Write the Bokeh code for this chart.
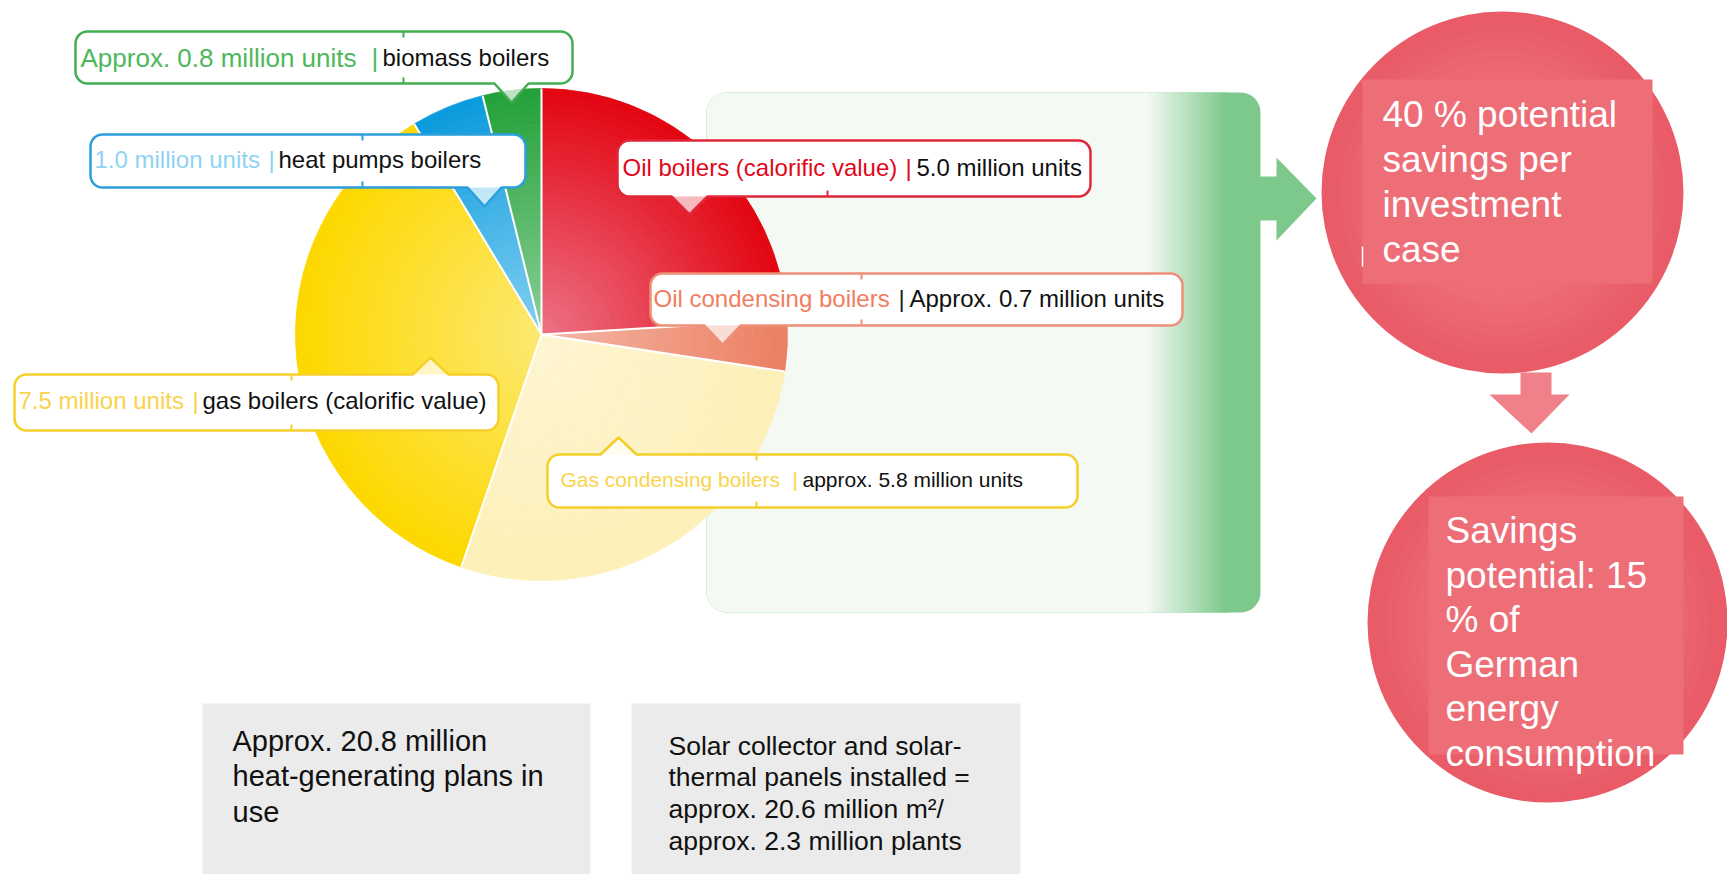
import numpy as np
from bokeh.plotting import figure
from bokeh.models import Range1d
from bokeh.core.properties import value
from bokeh.embed import file_html
from bokeh.resources import INLINE

# ---------------- data ----------------
categories = ["Oil boilers (calorific value)", "Oil condensing boilers", "Gas condensing boilers",
              "Gas boilers (calorific value)", "Heat pumps boilers", "Biomass boilers"]
units_million = [5.0, 0.7, 5.8, 7.5, 1.0, 0.8]
label_first = ["Oil boilers (calorific value)", "Oil condensing boilers", "Gas condensing boilers",
               "7.5 million units", "1.0 million units", "Approx. 0.8 million units"]
label_second = ["5.0 million units", "Approx. 0.7 million units", "approx. 5.8 million units",
                "gas boilers (calorific value)", "heat pumps boilers", "biomass boilers"]
savings_top = ["40 % potential", "savings per", "investment", "case"]
savings_bottom = ["Savings", "potential: 15", "% of", "German", "energy", "consumption"]
summary_left = ["Approx. 20.8 million", "heat-generating plans in", "use"]
summary_right = ["Solar collector and solar-", "thermal panels installed =",
                 "approx. 20.6 million m\u00b2/", "approx. 2.3 million plants"]

# ---------------- styles / layout ----------------
FONT = value("Liberation Sans")
slice_edge = ["#e30613", "#ec8062", "#fdf0b8", "#fdd800", "#0c9bdd", "#24a13a"]
slice_center = ["#ec7084", "#f4b6a6", "#fef5d2", "#fde870", "#82cff1", "#8acf96"]
first_color = ["#e3061a", "#f07d5e", "#f8d44c", "#f9d24a", "#8fd3f4", "#4db85b"]
sep_color = ["#e3061a", "#222222", "#f8d44c", "#f9d24a", "#8fd3f4", "#4db85b"]
border_color = ["#e1263a", "#ee8f77", "#f4cf2a", "#f6cf2a", "#2b9fdc", "#44ad52"]
# box (x0, y0, x1, y1), pointer (side, x, halfwidth, height), text x positions, text y, sizes
boxes = [(617, 140, 1090, 196), (650, 273, 1182, 325), (547, 454, 1077, 507),
         (14, 374, 498, 430), (90, 134, 525, 187), (75, 31, 572, 83)]
pointers = [("bottom", 689, 18, 18), ("bottom", 722, 18, 19), ("top", 618, 18, 17),
            ("top", 430, 18, 17), ("bottom", 484, 17, 19), ("bottom", 511, 17, 19)]
stubs = [(827, False, True), (861, True, True), (756, True, True),
         (291, True, True), (362, True, True), (403, True, True)]
text_x = [(622, 905, 916), (653, 898, 909), (560, 792, 802),
          (18, 192, 202), (94, 268, 278), (80, 371, 382)]
text_y = [167, 298, 479, 400, 159, 57]
size_first = ["24px", "24px", "21px", "24px", "24px", "26px"]
size_second = ["24px", "24px", "21px", "24px", "24px", "24px"]

W, H = 1727, 874
p = figure(width=W, height=H, x_range=Range1d(0, W), y_range=Range1d(-H, 0),
           output_backend="svg", toolbar_location=None, x_axis_type=None, y_axis_type=None,
           min_border=0)
p.outline_line_color = None
p.background_fill_color = "white"
p.border_fill_color = "white"


def hx(c):
    c = c.lstrip("#")
    return np.array([int(c[i:i + 2], 16) for i in (0, 2, 4)], dtype=float)


def mix(c1, c2, t):
    a, b = hx(c1), hx(c2)
    m = a + (b - a) * t
    return "#%02x%02x%02x" % tuple(int(round(v)) for v in m)


def rounded_path(x0, y0, x1, y1, r, ptr=None, radii=None):
    tl, tr, br, bl = radii if radii else (r, r, r, r)
    pts = []

    def arc(cx, cy, a0, a1, rr):
        if rr <= 0:
            return [(cx, cy)]
        ts = np.radians(np.linspace(a0, a1, 9))
        return [(cx + rr * np.cos(t), cy + rr * np.sin(t)) for t in ts]

    pts += arc(x0 + tl, y0 + tl, 180, 270, tl)
    if ptr and ptr[0] == "top":
        _, px, pw, ph = ptr
        pts += [(px - pw, y0), (px, y0 - ph), (px + pw, y0)]
    pts += arc(x1 - tr, y0 + tr, 270, 360, tr)
    pts += arc(x1 - br, y1 - br, 0, 90, br)
    if ptr and ptr[0] == "bottom":
        _, px, pw, ph = ptr
        pts += [(px + pw, y1), (px, y1 + ph), (px - pw, y1)]
    pts += arc(x0 + bl, y1 - bl, 90, 180, bl)
    return [q[0] for q in pts], [-q[1] for q in pts]


# ---------------- green panel ----------------
PX0, PY0, PX1, PY1 = 706, 92, 1260, 612
G_LIGHT, G_DARK = "#f4f9f4", "#7cc98b"
xs, ys = rounded_path(PX0, PY0, PX1, PY1, 20)
p.patch(xs, ys, fill_color=G_DARK, line_color=None)
xs, ys = rounded_path(PX0, PY0, 1146, PY1, 20, radii=(20, 0, 0, 20))
p.patch(xs, ys, fill_color=G_LIGHT, line_color=None)
gx = np.arange(1145, 1226, 2)
gcols = [mix(G_LIGHT, G_DARK, (v - 1145) / 80.0) for v in gx]
p.quad(left=gx, right=gx + 2.5, top=-PY0, bottom=-PY1, fill_color=gcols, line_color=None)
# arrow to top circle
p.patch([1258, 1276, 1276, 1316, 1276, 1276, 1258], [-176, -176, -157, -198, -240, -220, -220],
        fill_color=G_DARK, line_color=None)

# ---------------- pie ----------------
CX, CY, R = 541, 334, 246
vals = np.array(units_million)
cum = np.concatenate([[0.0], np.cumsum(vals / vals.sum())])
a_start = np.pi / 2 - 2 * np.pi * cum[:-1]
a_end = np.pi / 2 - 2 * np.pi * cum[1:]
NB = 28
wx, wy, rin, rout, sa, ea, cols = [], [], [], [], [], [], []
for i in range(len(vals)):
    for k in range(NB):
        t = k / (NB - 1)
        wx.append(CX); wy.append(-CY)
        rin.append(R * k / NB); rout.append(R * (k + 1) / NB)
        sa.append(a_end[i]); ea.append(a_start[i])
        cols.append(mix(slice_center[i], slice_edge[i], t))
p.annular_wedge(x=wx, y=wy, inner_radius=rin, outer_radius=rout, start_angle=sa, end_angle=ea,
                fill_color=cols, line_color=cols, line_width=0.8)
bang = np.pi / 2 - 2 * np.pi * cum[:-1]
p.segment(x0=[CX] * len(bang), y0=[-CY] * len(bang), x1=CX + R * np.cos(bang),
          y1=-CY + R * np.sin(bang), line_color="white", line_width=2)

# ---------------- callouts ----------------
for i in range(len(categories)):
    x0, y0, x1, y1 = boxes[i]
    bx, by = rounded_path(x0, y0, x1, y1, 12)
    p.patch(bx, by, fill_color="white", line_color=None)
    cx_, cy_ = rounded_path(x0, y0, x1, y1, 12, ptr=pointers[i])
    p.patch(cx_, cy_, fill_color="white", fill_alpha=0.7, line_color=border_color[i], line_width=2.5)
    sx, top_stub, bot_stub = stubs[i]
    if top_stub:
        p.segment(x0=[sx], y0=[-y0], x1=[sx], y1=[-(y0 + 6)], line_color=border_color[i], line_width=2)
    if bot_stub:
        p.segment(x0=[sx], y0=[-(y1 - 6)], x1=[sx], y1=[-y1], line_color=border_color[i], line_width=2)
    t1, t2, t3 = text_x[i]
    p.text(x=[t1], y=[-text_y[i]], text=[label_first[i]], text_font=FONT,
           text_font_size=size_first[i], text_color=first_color[i], text_baseline="middle")
    p.text(x=[t2], y=[-text_y[i]], text=["|"], text_font=FONT,
           text_font_size=size_first[i], text_color=sep_color[i], text_baseline="middle")
    p.text(x=[t3], y=[-text_y[i]], text=[label_second[i]], text_font=FONT,
           text_font_size=size_second[i], text_color="#111111", text_baseline="middle")

# ---------------- savings circles ----------------
C_EDGE, C_CENTER = "#e85b67", "#f07a84"
circles = [(1502, 192, 181), (1547, 622, 180)]
for (ccx, ccy, cr) in circles:
    n = 14
    for k in range(n):
        rr = cr * (1 - 0.75 * k / n)
        p.circle(x=[ccx], y=[-ccy], radius=rr, fill_color=mix(C_EDGE, C_CENTER, k / (n - 1)),
                 line_color=None)
p.quad(left=[1362, 1428], right=[1652, 1683], top=[-79, -496], bottom=[-283, -754],
       fill_color="#ee6e78", line_color=None)
p.segment(x0=[1362], y0=[-246], x1=[1362], y1=[-266], line_color="white", line_width=1.5)
# arrow between circles
p.patch([1520, 1551, 1551, 1569, 1531, 1489, 1520, 1520],
        [-372, -372, -394, -394, -433, -394, -394, -372], fill_color="#f08089", line_color=None)
p.text(x=[1382] * len(savings_top), y=[-(114 + 45 * k) for k in range(len(savings_top))],
       text=savings_top, text_font=FONT, text_font_size="37px", text_color="white",
       text_baseline="middle")
p.text(x=[1445] * len(savings_bottom), y=[-(530 + 44.6 * k) for k in range(len(savings_bottom))],
       text=savings_bottom, text_font=FONT, text_font_size="37px", text_color="white",
       text_baseline="middle")

# ---------------- summary boxes ----------------
p.quad(left=[202, 631], right=[590, 1020], top=[-703, -703], bottom=[-880, -880],
       fill_color="#ebebeb", line_color=None)
p.text(x=[232] * len(summary_left), y=[-(740 + 35.5 * k) for k in range(len(summary_left))],
       text=summary_left, text_font=FONT, text_font_size="29px", text_color="#111111",
       text_baseline="middle")
p.text(x=[668] * len(summary_right), y=[-(745 + 31.7 * k) for k in range(len(summary_right))],
       text=summary_right, text_font=FONT, text_font_size="26.5px", text_color="#111111",
       text_baseline="middle")

open("out.html", "w").write(file_html(p, INLINE))
